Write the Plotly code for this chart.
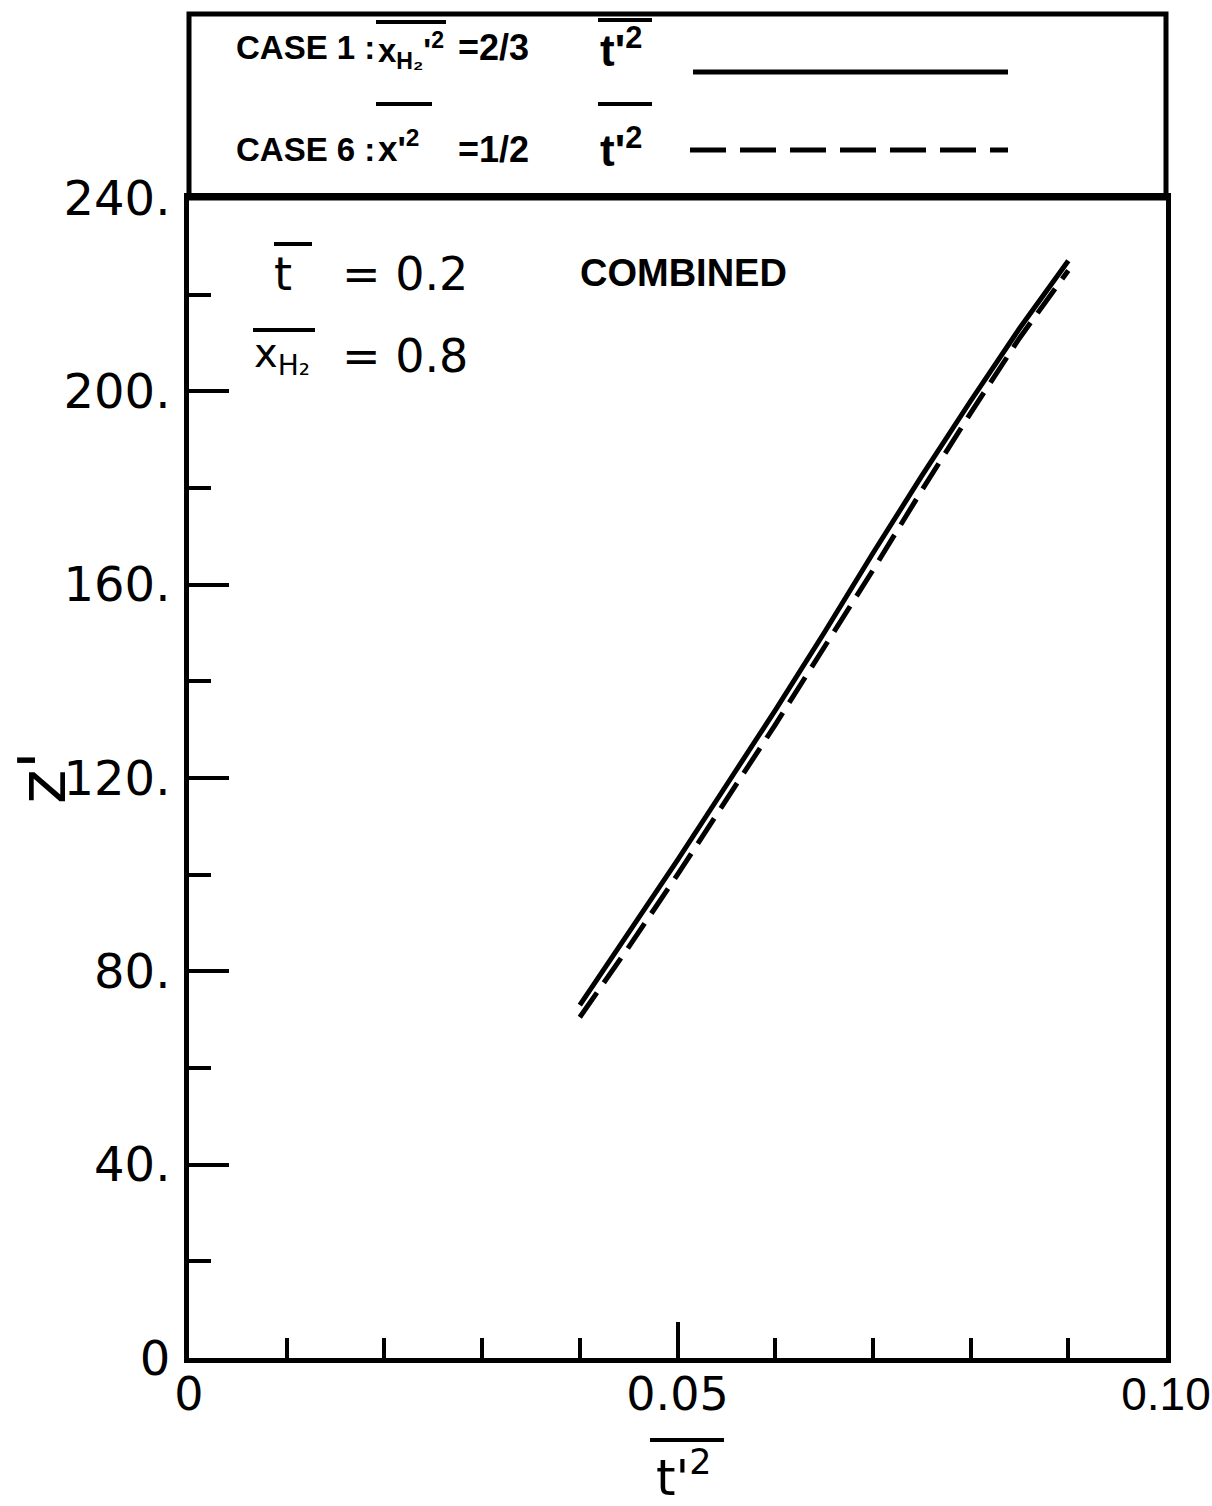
import plotly.graph_objects as go

# t'^2 values and computed z' for the two cases
t2_values = [0.040, 0.045, 0.050, 0.055, 0.060, 0.065, 0.070, 0.075, 0.080, 0.085, 0.090]
z_case1 = [73.0, 88.0, 103.0, 118.5, 134.0, 150.0, 166.5, 182.5, 198.0, 213.0, 227.0]
z_case6 = [70.5, 85.0, 100.0, 115.5, 131.0, 147.0, 163.0, 179.5, 195.5, 211.0, 225.0]

x_tick_vals = [0, 0.05, 0.10]
x_tick_text = ["0", "0.05", '<span style="font-family:Liberation Sans">0.10</span>']
y_tick_vals = [0, 40, 80, 120, 160, 200, 240]
y_tick_text = ["0", "40.", "80.", "120.", "160.", "200.", "240."]

W, H = 1212, 1506
L, R, T, B = 189, 1166, 198, 1358


def px(x):
    return (x - L) / (R - L)


def py(y):
    return (B - y) / (B - T)


LABEL_FONT = "DejaVu Sans"
KEY_FONT = "Liberation Sans"

fig = go.Figure()
fig.add_trace(go.Scatter(x=t2_values, y=z_case1, mode="lines",
                         line=dict(color="black", width=5), showlegend=False))
fig.add_trace(go.Scatter(x=t2_values, y=z_case6, mode="lines",
                         line=dict(color="black", width=5, dash="30px,12px"),
                         showlegend=False))

shapes = []
# key box above the plotting area
shapes.append(dict(type="rect", xref="paper", yref="paper",
                   x0=0, x1=1, y0=1, y1=py(14),
                   line=dict(color="black", width=5)))
# key samples
shapes.append(dict(type="line", xref="paper", yref="paper",
                   x0=px(693), x1=px(1008), y0=py(72), y1=py(72),
                   line=dict(color="black", width=5)))
shapes.append(dict(type="line", xref="paper", yref="paper",
                   x0=px(690), x1=px(1008), y0=py(150), y1=py(150),
                   line=dict(color="black", width=5, dash="36px,14px")))


def bar(x0, x1, y):
    shapes.append(dict(type="line", xref="paper", yref="paper",
                       x0=px(x0), x1=px(x1), y0=py(y), y1=py(y),
                       line=dict(color="black", width=4)))


# overbars for the mean quantities
bar(376, 446, 22)
bar(598, 652, 20)
bar(376, 432, 104)
bar(598, 652, 104)
bar(274, 312, 244)
bar(253, 315, 330)
bar(650, 724, 1440)

annotations = []


def text(x, y, s, size, font=LABEL_FONT, anchor="left", angle=0):
    annotations.append(dict(x=px(x), y=py(y), xref="paper", yref="paper",
                            text=s, showarrow=False, xanchor=anchor,
                            yanchor="middle", textangle=angle,
                            font=dict(family=font, size=size, color="black")))


# key entries
text(234, 48, "<b>CASE 1 :</b>", 33, KEY_FONT)
text(376, 50, "<b>x<sub>H₂</sub>'<sup>2</sup></b>", 33, KEY_FONT)
text(456, 48, "<b>=2/3</b>", 36, KEY_FONT)
text(598, 48, "<b>t'<sup>2</sup></b>", 44, KEY_FONT)
text(234, 150, "<b>CASE 6 :</b>", 33, KEY_FONT)
text(376, 146, "<b>x'<sup>2</sup></b>", 35, KEY_FONT)
text(456, 150, "<b>=1/2</b>", 36, KEY_FONT)
text(598, 148, "<b>t'<sup>2</sup></b>", 44, KEY_FONT)

# parameters inside the plot
text(272, 274, "t", 46)
text(340, 274, "= 0.2", 46)
text(252, 356, "x<sub>H₂</sub>", 40)
text(340, 356, "= 0.8", 46)
text(578, 273, "<b>COMBINED</b>", 38, KEY_FONT)

# axis titles
text(684, 1474, "t'<sup>2</sup>", 50, anchor="center")
text(42, 778, "z'", 66, anchor="center", angle=-90)

fig.update_layout(
    width=W, height=H,
    margin=dict(l=L, r=W - R, t=T, b=H - B),
    paper_bgcolor="white", plot_bgcolor="white",
    shapes=shapes, annotations=annotations,
    xaxis=dict(range=[0, 0.10], tickvals=x_tick_vals, ticktext=x_tick_text,
               ticks="inside", ticklen=36, tickwidth=4, tickcolor="black",
               minor=dict(dtick=0.01, tick0=0, ticks="inside", ticklen=20,
                          tickwidth=4, tickcolor="black", showgrid=False),
               showline=True, linewidth=5, linecolor="black", mirror=True,
               showgrid=False, zeroline=False, ticklabelstandoff=-8,
               ticklabeloverflow="allow", automargin=False,
               tickfont=dict(family=LABEL_FONT, size=46, color="black")),
    yaxis=dict(range=[0, 240], tickvals=y_tick_vals, ticktext=y_tick_text,
               ticks="inside", ticklen=40, tickwidth=4, tickcolor="black",
               minor=dict(dtick=20, tick0=0, ticks="inside", ticklen=22,
                          tickwidth=4, tickcolor="black", showgrid=False),
               showline=True, linewidth=5, linecolor="black", mirror=True,
               showgrid=False, zeroline=False, ticklabelstandoff=4,
               ticklabeloverflow="allow", automargin=False,
               tickfont=dict(family=LABEL_FONT, size=48, color="black")),
)

fig.write_html("out.html")
